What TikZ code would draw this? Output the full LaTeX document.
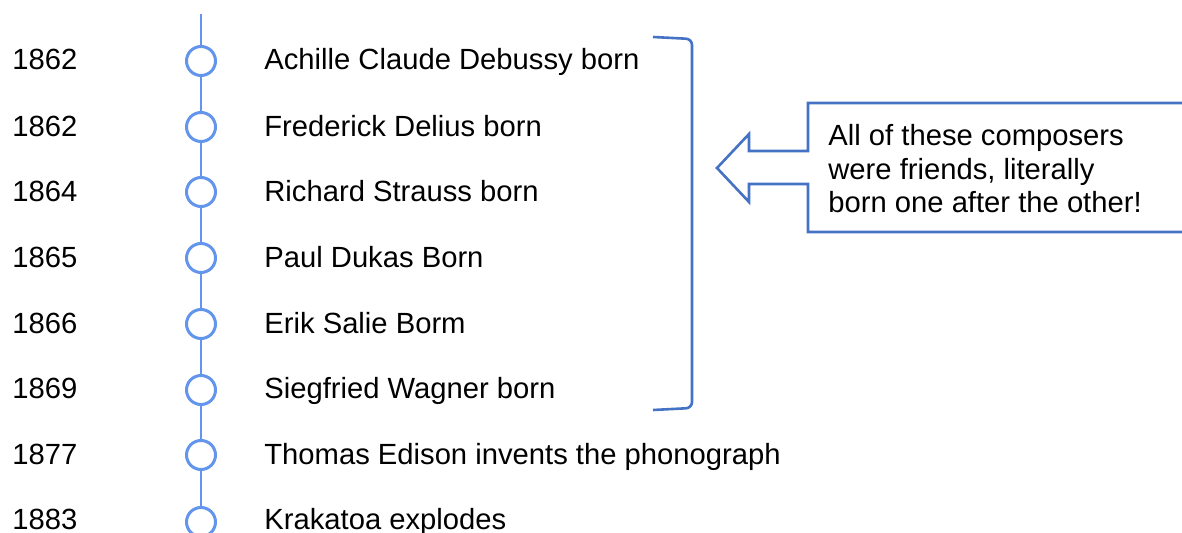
\documentclass[tikz,border=0pt]{standalone}
\usepackage{fontspec}
\setmainfont{Liberation Sans}
\definecolor{lineblue}{RGB}{100,149,237}
\definecolor{notblue}{RGB}{68,114,196}
\tikzset{
  year/.style={anchor=base west, inner sep=0pt},
  event/.style={anchor=base west, inner sep=0pt},
  dot/.style={circle, draw=lineblue, line width=1.5pt, fill=white, minimum size=14.5pt, inner sep=0pt},
  timeline/.style={draw=lineblue, line width=0.9pt},
  bracket/.style={draw=notblue, line width=1.3pt, rounded corners=3pt},
  notebox/.style={draw=notblue, line width=1.3pt, fill=white, line join=miter},
  note/.style={anchor=north west, inner sep=0pt, align=left}
}
\begin{document}
\begin{tikzpicture}[x=0.5pt, y=-0.5pt]
\fontsize{14.6}{16.75}\selectfont
\useasboundingbox (0, 0) rectangle (1182, 533);
% timeline dots
\node[dot] (dot1) at (201, 61) {};
\node[dot] (dot2) at (201, 127) {};
\node[dot] (dot3) at (201, 192) {};
\node[dot] (dot4) at (201, 258) {};
\node[dot] (dot5) at (201, 324) {};
\node[dot] (dot6) at (201, 390) {};
\node[dot] (dot7) at (201, 455) {};
\node[dot] (dot8) at (201, 522) {};
\coordinate (linetop) at (201, 14);
\coordinate (linebot) at (201, 545);
\draw[timeline] (linetop) -- (dot1) -- (dot2) -- (dot3) -- (dot4) -- (dot5) -- (dot6) -- (dot7) -- (dot8) -- (linebot);

% years
\node[year] (yr1) at (12, 70) {1862};
\node[year] (yr2) at (12, 137) {1862};
\node[year] (yr3) at (12, 202) {1864};
\node[year] (yr4) at (12, 268) {1865};
\node[year] (yr5) at (12, 334) {1866};
\node[year] (yr6) at (12, 399) {1869};
\node[year] (yr7) at (12, 465) {1877};
\node[year] (yr8) at (12, 530) {1883};

% events
\node[event] (ev1) at (264, 70) {Achille Claude Debussy born};
\node[event] (ev2) at (264, 137) {Frederick Delius born};
\node[event] (ev3) at (264, 202) {Richard Strauss born};
\node[event] (ev4) at (264, 268) {Paul Dukas Born};
\node[event] (ev5) at (264, 334) {Erik Salie Borm};
\node[event] (ev6) at (264, 399) {Siegfried Wagner born};
\node[event] (ev7) at (264, 465) {Thomas Edison invents the phonograph};
\node[event] (ev8) at (264, 530) {Krakatoa explodes};

% bracket
\coordinate (brtop) at (653, 37);
\coordinate (brbot) at (653, 410);
\draw[bracket] (brtop) -- (692, 39) -- (692, 408) -- (brbot);

% callout with arrow
\draw[notebox] (1195, 103) -- (808, 103) -- (808, 151) -- (749, 151) -- (749, 134)
  -- (717, 168) -- (749, 202) -- (749, 184) -- (808, 184) -- (808, 232) -- (1195, 232);
\node[note] (notetext) at (828, 124) {All of these composers\\were friends, literally\\born one after the other!};
\end{tikzpicture}
\end{document}
